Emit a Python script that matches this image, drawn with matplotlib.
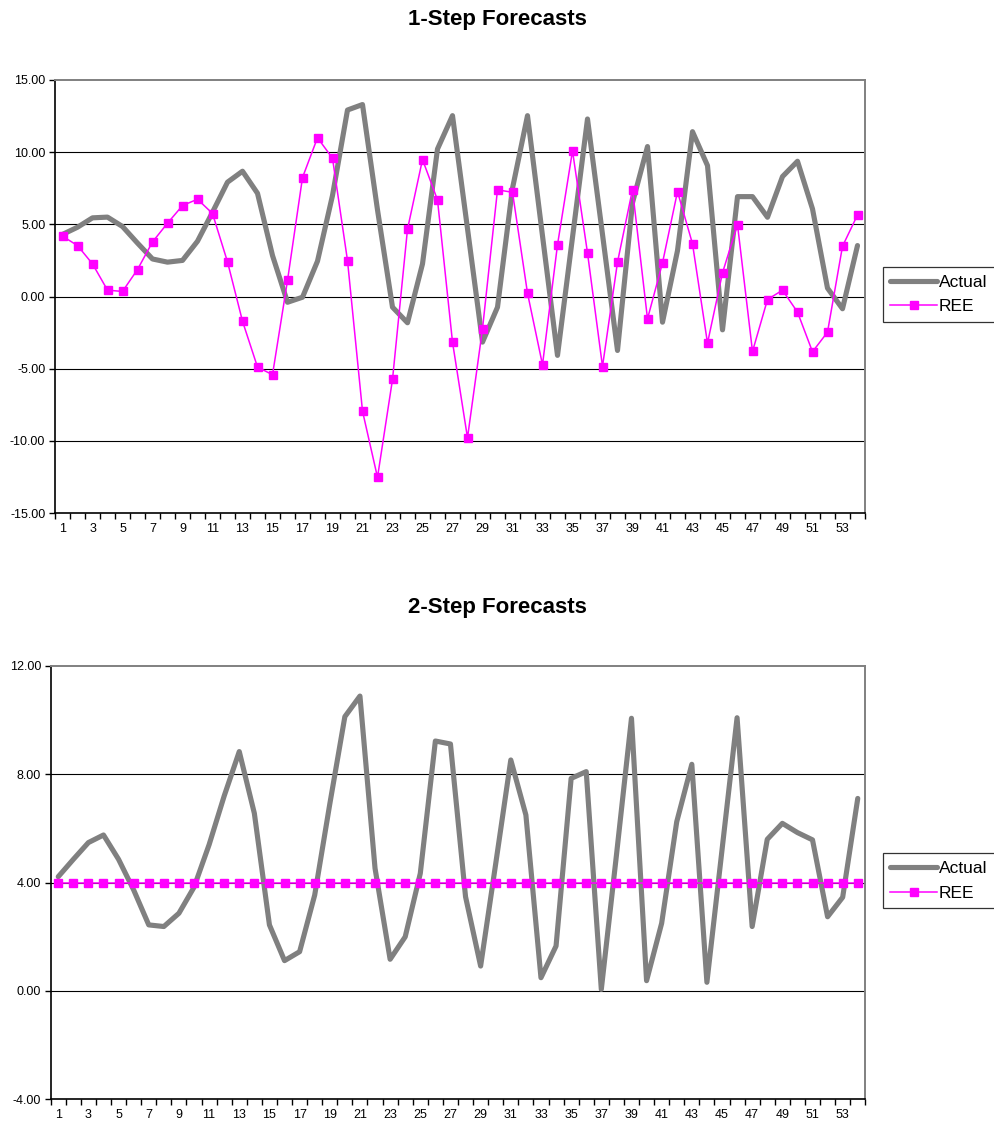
import numpy as np
import matplotlib
matplotlib.use('Agg')
from matplotlib import pyplot as plt
from matplotlib.ticker import FixedLocator, FormatStrFormatter

plt.rcParams['font.family'] = ['Liberation Sans', 'DejaVu Sans']

periods = list(range(1, 55))

# 1-step forecasts
actual1 = [4.3, 4.8, 5.45, 5.5, 4.85, 3.7, 2.6, 2.38, 2.5, 3.83,
           5.84, 7.92, 8.68, 7.15, 2.84, -0.4, -0.05, 2.45, 7.0, 12.92,
           13.3, 6.0, -0.74, -1.82, 2.26, 10.22, 12.53, 4.7, -3.16, -0.74,
           7.5, 12.53, 4.2, -4.08, 4.1, 12.3, 4.3, -3.74, 6.5, 10.39,
           -1.78, 3.18, 11.42, 9.07, -2.31, 6.92, 6.92, 5.49, 8.31, 9.37,
           6.07, 0.58, -0.85, 3.53]
ree1 = [4.18, 3.53, 2.26, 0.44, 0.35, 1.87, 3.78, 5.08, 6.3, 6.74,
        5.75, 2.4, -1.71, -4.89, -5.42, 1.11, 8.24, 11.0, 9.58, 2.49,
        -7.94, -12.53, -5.75, 4.66, 9.49, 6.69, -3.16, -9.79, -2.24, 7.39,
        7.22, 0.23, -4.73, 3.58, 10.09, 3.02, -4.85, 2.38, 7.41, -1.55,
        2.33, 7.27, 3.65, -3.23, 1.64, 4.98, -3.81, -0.21, 0.44, -1.08,
        -3.83, -2.47, 3.48, 5.65]

# 2-step forecasts
actual2 = [4.22, 4.86, 5.48, 5.76, 4.86, 3.73, 2.44, 2.38, 2.87, 3.83,
           5.4, 7.2, 8.84, 6.56, 2.44, 1.12, 1.45, 3.54, 6.9, 10.13,
           10.89, 4.53, 1.17, 2.0, 4.34, 9.23, 9.12, 3.48, 0.92, 4.7,
           8.53, 6.5, 0.49, 1.66, 7.85, 8.1, 0.06, 5.0, 10.07, 0.38,
           2.5, 6.25, 8.37, 0.32, 5.2, 10.09, 2.38, 5.6, 6.19, 5.85,
           5.58, 2.74, 3.46, 7.11]
ree2 = [4.0] * 54

GRAY = '#808080'
MAGENTA = '#FF00FF'


def drawPanel(ax, actual, ree, yticks, title, titleY, legendY, fig):
    ax.plot(periods, actual, color=GRAY, lw=3.7, label='Actual',
            solid_joinstyle='round', solid_capstyle='round', zorder=3)
    ax.plot(periods, ree, color=MAGENTA, lw=1.1, marker='s', ms=5.5,
            label='REE', zorder=4)
    ax.set_xlim(0.5, 54.5)
    ax.set_ylim(yticks[0], yticks[-1])
    ax.set_yticks(yticks)
    ax.yaxis.set_major_formatter(FormatStrFormatter('%.2f'))
    for y in yticks[1:-1]:
        ax.axhline(y, color='black', lw=0.8, zorder=1)

    ax.xaxis.set_major_locator(FixedLocator(np.arange(0.5, 55, 1)))
    ax.xaxis.set_minor_locator(FixedLocator(periods[::2]))
    ax.set_xticklabels([], minor=False)
    ax.set_xticklabels([str(p) for p in periods[::2]], minor=True)
    ax.tick_params(axis='x', which='major', length=4, width=1, color='black')
    ax.tick_params(axis='x', which='minor', length=0, pad=7, labelsize=9)
    ax.tick_params(axis='y', length=4, width=1, labelsize=9, pad=3)

    for side in ['top', 'right']:
        ax.spines[side].set_color(GRAY)
        ax.spines[side].set_linewidth(1.4)
    for side in ['left', 'bottom']:
        ax.spines[side].set_color('black')
        ax.spines[side].set_linewidth(1.2)

    fig.text(0.5, titleY, title, ha='center', va='center',
             fontsize=16, fontweight='bold')
    leg = ax.legend(loc='upper left', bbox_to_anchor=(882.5 / 994, legendY),
                    bbox_transform=fig.transFigure, fontsize=12.5,
                    frameon=True, fancybox=False, edgecolor='black',
                    handlelength=2.7, handletextpad=0.1, borderpad=0.45,
                    labelspacing=0.55, borderaxespad=0)
    leg.get_frame().set_linewidth(0.9)


fig = plt.figure(figsize=(9.94, 11.29), dpi=100)
ax1 = fig.add_axes([55 / 994, 1 - 513 / 1129, 810 / 994, 433 / 1129])
ax2 = fig.add_axes([50.7 / 994, 1 - 1099.3 / 1129, 814.6 / 994, 433.3 / 1129])

drawPanel(ax1, actual1, ree1, [-15, -10, -5, 0, 5, 10, 15],
          '1-Step Forecasts', 1 - 20 / 1129, 1 - 266.7 / 1129, fig)
drawPanel(ax2, actual2, ree2, [-4, 0, 4, 8, 12],
          '2-Step Forecasts', 1 - 607 / 1129, 1 - 853 / 1129, fig)

fig.savefig('out.png', dpi=100)
